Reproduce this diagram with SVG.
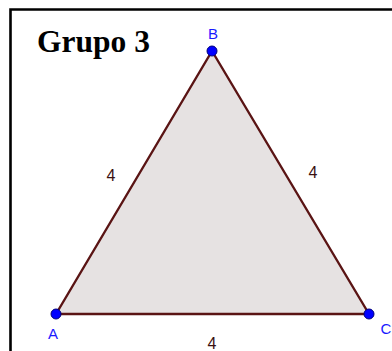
<svg xmlns="http://www.w3.org/2000/svg" width="392" height="351" viewBox="0 0 392 351">
<style>
.lbl{font-family:"Liberation Sans",Arial,sans-serif;font-size:15px;fill:#1a1aff;text-anchor:middle}
.len{font-family:"Liberation Sans",Arial,sans-serif;font-size:16px;fill:#3a1010;text-anchor:middle}
.pt{fill:#0000ff;stroke:#00007a;stroke-width:1}
</style>
<rect width="392" height="351" fill="#ffffff"/>
<path d="M10.5,351 V9.5 H392" fill="none" stroke="#000" stroke-width="2.6"/>
<text x="37" y="52" font-family="Liberation Serif,'Times New Roman',serif" font-weight="bold" font-size="31.5" fill="#000">Grupo 3</text>
<g id="triangle">
<polygon points="56,314 212,51 369,314" fill="#e6e2e2" stroke="#5a1414" stroke-width="2.4" stroke-linejoin="round"/>
</g>
<g id="connectors"/>
<g id="A"><circle class="pt" cx="56" cy="314" r="5"/><text class="lbl" x="53" y="339">A</text></g>
<g id="B"><circle class="pt" cx="212" cy="51" r="5"/><text class="lbl" x="213" y="39">B</text></g>
<g id="C"><circle class="pt" cx="369" cy="314" r="5"/><text class="lbl" x="386" y="334">C</text></g>
<text class="len" x="111" y="181">4</text>
<text class="len" x="313" y="178">4</text>
<text class="len" x="212" y="349">4</text>
</svg>
